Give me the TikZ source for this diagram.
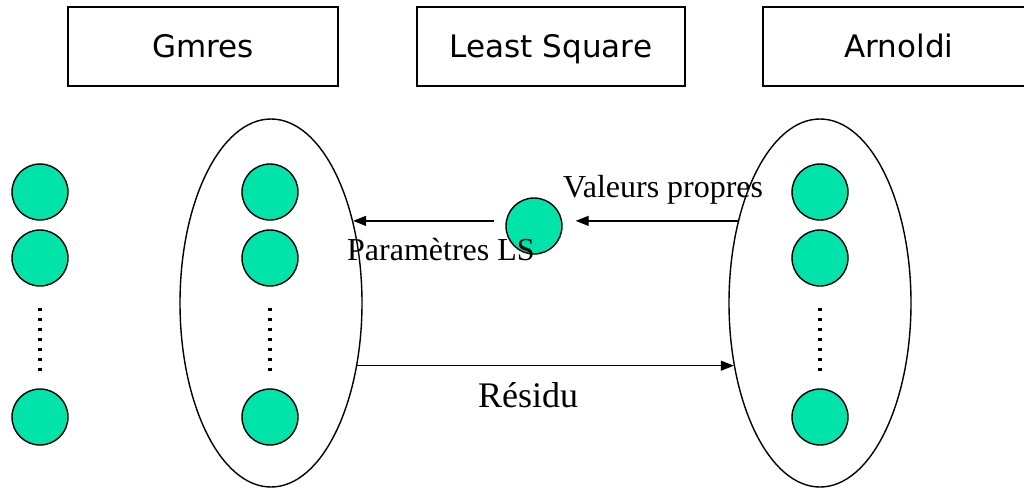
\documentclass[tikz,border=0pt]{standalone}
\usepackage{fontspec}
\setmainfont{Liberation Serif}
\newfontfamily\boxfont{DejaVu Sans}
\usetikzlibrary{shapes.geometric,arrows.meta}
\definecolor{ballgreen}{RGB}{0,228,170}
\tikzset{
  titlebox/.style={draw, line width=1.3pt, minimum width=270pt, minimum height=79pt,
    inner sep=0pt, text height=24pt, text depth=3pt, font=\boxfont\fontsize{31}{36}\selectfont},
  ball/.style={circle, draw, line width=1.4pt, fill=ballgreen, minimum size=56pt, inner sep=0pt},
  group/.style={ellipse, draw, line width=1.4pt, minimum width=182pt, minimum height=368pt, inner sep=0pt},
  flow/.style={line width=1.3pt, -{Triangle[length=13pt,width=10pt]}},
  dotline/.style={line width=3.2pt, dash pattern=on 3pt off 7pt},
  lbl/.style={anchor=base west, inner sep=0pt, font=\fontsize{32}{38}\selectfont},
}
\begin{document}
\begin{tikzpicture}[x=1pt, y=-1pt]
\useasboundingbox (0,0) rectangle (1024,488);
\clip (0,0) rectangle (1024,488);

% title boxes
\node[titlebox] (tg) at (203,46.5) {Gmres};
\node[titlebox, minimum width=268pt] (tl) at (551,46.5) {Least Square};
\node[titlebox, minimum width=272pt] (ta) at (899,46.5) {Arnoldi};

% process groups
\node[group] (gm) at (271,303) {};
\node[group] (ar) at (820,303) {};

% left column
\node[ball] (l1) at (40,192) {};
\node[ball] (l2) at (40,258) {};
\node[ball] (l3) at (40,417) {};
% middle column
\node[ball] (m1) at (270,192) {};
\node[ball] (m2) at (270,258) {};
\node[ball] (m3) at (270,417) {};
% right column
\node[ball] (r1) at (820,192) {};
\node[ball] (r2) at (820,258) {};
\node[ball] (r3) at (820,417) {};
% least-square process
\node[ball] (ls) at (534,226) {};

% ellipsis dots
\draw[dotline, shorten <=21pt, shorten >=11pt] (l2.south) -- (l3.north);
\draw[dotline, shorten <=21pt, shorten >=11pt] (m2.south) -- (m3.north);
\draw[dotline, shorten <=21pt, shorten >=11pt] (r2.south) -- (r3.north);

% message flows
\draw[flow] (ar.135) -- ([xshift=13pt]ls.east |- ar.135);
\draw[flow] ([xshift=-11pt]ls.west |- gm.45) -- (gm.45);
\draw[flow] (gm.-36) -- (ar.216);

% labels
\node[lbl] (vp) at (563,197) {Valeurs propres};
\node[lbl] (pl) at (347,260) {Paramètres LS};
\node[lbl, font=\fontsize{36}{42}\selectfont] (rs) at (478,407) {Résidu};
\end{tikzpicture}
\end{document}
